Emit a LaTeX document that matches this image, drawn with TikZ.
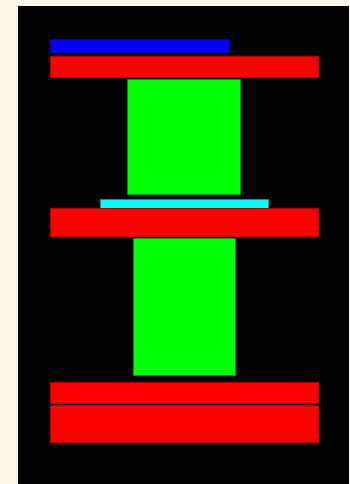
\documentclass[tikz,border=0pt]{standalone}
\definecolor{cream}{RGB}{253,246,227}
\definecolor{pgreen}{RGB}{0,255,0}
\definecolor{pcyan}{RGB}{0,255,255}
\tikzset{blk/.style={line width=0.5pt}}
\begin{document}
\begin{tikzpicture}[x=1pt,y=-1pt]
\fill[cream] (0,0) rectangle (349,484);
\useasboundingbox (0,0) rectangle (349,484);
\fill[black] (18,6) rectangle (349,484);
\filldraw[blk,fill=blue,draw=blue!70!black] (50,39) rectangle (229,52);
\filldraw[blk,fill=red,draw=red!70!black] (50,56) rectangle (318,77.5);
\filldraw[blk,fill=pgreen,draw=pgreen!60!black] (127,79.5) rectangle (240,194);
\filldraw[blk,fill=pcyan,draw=pcyan!60!black] (100,199.5) rectangle (268,208);
\filldraw[blk,fill=red,draw=red!70!black] (50,208) rectangle (318,236);
\filldraw[blk,fill=pgreen,draw=pgreen!60!black] (133,238) rectangle (235,375.7);
\filldraw[blk,fill=red,draw=red!70!black] (50,382.3) rectangle (318,403.3);
\filldraw[blk,fill=red,draw=red!70!black] (50,405.7) rectangle (318,442);
\end{tikzpicture}
\end{document}
